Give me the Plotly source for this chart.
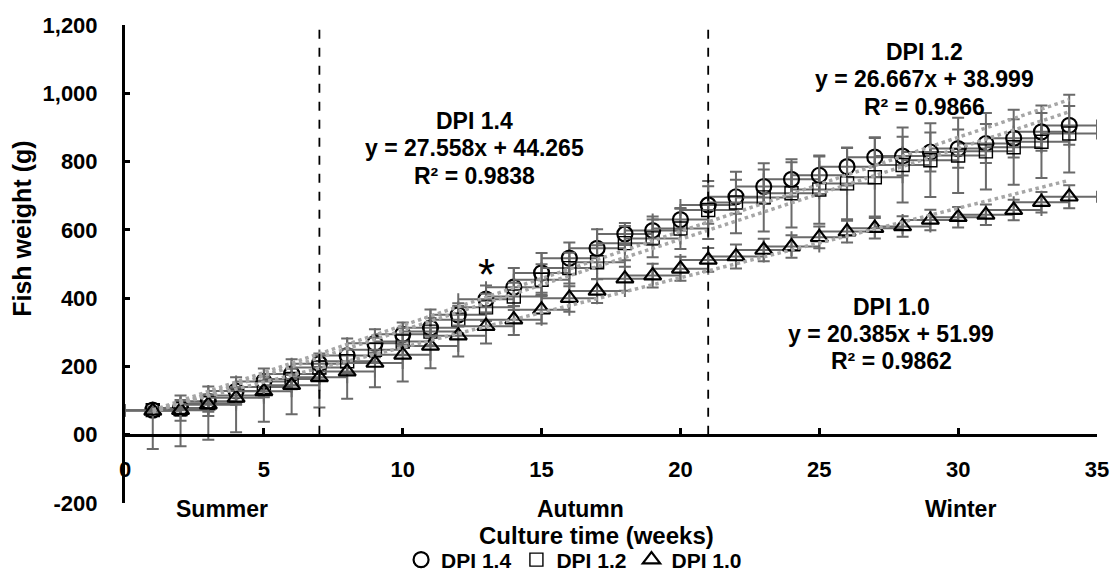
import plotly.graph_objects as go

# ---------------- data ----------------
weeks = list(range(1, 35))

dpi14 = [72, 78, 98, 128, 156, 178, 208, 232, 268, 294, 313, 351, 397, 432, 474, 517, 546,
         588, 598, 630, 673, 697, 727, 748, 760, 785, 813, 816, 828, 838, 853, 868, 887, 906]
dpi12 = [72, 75, 92, 115, 140, 163, 197, 215, 249, 273, 302, 337, 373, 405, 454, 488, 505,
         561, 575, 604, 658, 680, 695, 707, 718, 736, 754, 790, 804, 818, 830, 842, 858, 882]
dpi10 = [70, 72, 88, 108, 127, 145, 168, 185, 210, 234, 260, 290, 318, 337, 366, 400, 421,
         457, 466, 486, 512, 522, 541, 551, 578, 595, 605, 610, 629, 637, 644, 658, 681, 697]

dpi14_err = [5, 37, 43, 40, 38, 43, 30, 50, 41, 35, 54, 34, 40, 56, 58, 46, 56,
             32, 41, 32, 55, 50, 50, 50, 55, 55, 58, 57, 57, 56, 57, 56, 55, 57]
dpi12_err = [10, 20, 25, 25, 30, 30, 35, 35, 35, 40, 40, 40, 40, 40, 45, 45, 50,
             50, 55, 60, 85, 90, 100, 100, 100, 105, 115, 110, 108, 110, 112, 110, 106, 114]
dpi10_err_minus = [112, 106, 103, 101, 89, 85, 88, 80, 71, 78, 65, 61, 51, 45, 40, 40, 35,
                   35, 35, 35, 35, 35, 33, 33, 32, 32, 30, 30, 30, 30, 30, 30, 30, 34]
dpi10_err_plus = [0, 30, 30, 30, 30, 30, 30, 30, 30, 30, 30, 30, 40, 40, 40, 35, 35,
                  35, 35, 35, 35, 35, 33, 33, 32, 32, 30, 30, 30, 30, 30, 30, 30, 34]
week_err = 1

series_names = ["DPI 1.4", "DPI 1.2", "DPI 1.0"]
trend_slopes = [27.558, 26.667, 20.385]
trend_intercepts = [44.265, 38.999, 51.99]
r_squared = ["0.9838", "0.9866", "0.9862"]
trend_eq_text = ["27.558x + 44.265", "26.667x + 38.999", "20.385x + 51.99"]

season_names = ["Summer", "Autumn", "Winter"]
season_bounds = [7, 21]

y_tick_vals = [-200, 0, 200, 400, 600, 800, 1000, 1200]
y_tick_text = ["-200", "00", "200", "400", "600", "800", "1,000", "1,200"]
x_tick_vals = [0, 5, 10, 15, 20, 25, 30, 35]

signif_week = 13
signif_weight = 468

# ---------------- styling ----------------
FONT = "Arial, 'Liberation Sans', sans-serif"
ERR_COLOR = "#6a6a6a"
TREND_COLOR = "#a6a6a6"
PLOT_TOP, PLOT_BOTTOM = 25, 503          # pixel rows of the plotting area
PLOT_H = PLOT_BOTTOM - PLOT_TOP


def paper_y(py):
    return (PLOT_BOTTOM - py) / PLOT_H


fig = go.Figure()

symbols = ["circle-open", "square-open", "triangle-up-open"]
sizes = [15, 13, 15]
lws = [2.2, 1.4, 2.2]
values = [dpi14, dpi12, dpi10]
err_plus = [dpi14_err, dpi12_err, dpi10_err_plus]
err_minus = [dpi14_err, dpi12_err, dpi10_err_minus]

for name, yv, ep, em, sym, sz, lw in zip(series_names, values, err_plus, err_minus, symbols, sizes, lws):
    fig.add_trace(go.Scatter(
        x=weeks, y=yv, mode="markers", name=name,
        marker=dict(symbol=sym, size=sz, color="black", line=dict(color="black", width=lw)),
        error_y=dict(type="data", symmetric=False, array=ep, arrayminus=em,
                     color=ERR_COLOR, thickness=2, width=6),
        error_x=dict(type="constant", value=week_err, color=ERR_COLOR, thickness=2, width=6),
    ))

# linear trend lines from the displayed equations
for a, b in zip(trend_slopes, trend_intercepts):
    xs = [weeks[0], weeks[-1]]
    fig.add_trace(go.Scatter(
        x=xs, y=[a * x + b for x in xs], mode="lines", showlegend=False,
        line=dict(color=TREND_COLOR, width=3.5, dash="dot"), hoverinfo="skip",
    ))

# season boundaries
for xb in season_bounds:
    fig.add_shape(type="line", xref="x", yref="y", x0=xb, x1=xb, y0=0, y1=1200,
                  line=dict(color="black", width=1.8, dash="dash"))

ann_font = dict(family=FONT, size=23, color="black", weight="bold")

# equation blocks: (center week, top weight)
eq_pos = [(12.6, 919), (28.8, 1121), (27.6, 375)]
for name, eq, r2, (cx, ty) in zip(series_names, trend_eq_text, r_squared, eq_pos):
    for i, txt in enumerate([name, "y = " + eq, "R² = " + r2]):
        fig.add_annotation(x=cx, y=ty - i * 80, xref="x", yref="y", text=txt,
                           showarrow=False, font=ann_font, xanchor="center", yanchor="middle")

# significance star
fig.add_annotation(x=signif_week, y=signif_weight, xref="x", yref="y", text="*",
                   showarrow=False, font=dict(family=FONT, size=44, color="black"),
                   xanchor="center", yanchor="middle")

# season labels
season_x = [3.5, 16.4, 30.1]
for s, sx in zip(season_names, season_x):
    fig.add_annotation(x=sx, y=paper_y(509), xref="x", yref="paper", text=s, showarrow=False,
                       font=dict(family=FONT, size=23, color="black", weight="bold"),
                       xanchor="center", yanchor="middle")

# axis titles
fig.add_annotation(x=0.485, y=paper_y(535), xref="paper", yref="paper", text="Culture time (weeks)",
                   showarrow=False, font=dict(family=FONT, size=24, color="black", weight="bold"),
                   xanchor="center", yanchor="middle")
fig.add_annotation(x=-0.106, y=603, xref="paper", yref="y", text="Fish weight (g)", textangle=-90,
                   showarrow=False, font=dict(family=FONT, size=25, color="black", weight="bold"),
                   xanchor="center", yanchor="middle")

fig.update_layout(
    width=1110, height=573,
    margin=dict(l=125, r=13, t=PLOT_TOP, b=573 - PLOT_BOTTOM, autoexpand=False),
    paper_bgcolor="white", plot_bgcolor="white",
    font=dict(family=FONT, color="black"),
    showlegend=True,
    legend=dict(orientation="h", x=0.462, xanchor="center", xref="paper",
                y=1 - 560 / 573, yanchor="middle", yref="container",
                font=dict(family=FONT, size=21, color="black", weight="bold"),
                itemwidth=30, tracegroupgap=0, bgcolor="rgba(0,0,0,0)"),
    xaxis=dict(range=[0, 35], anchor="free", position=200 / 1400,
               showline=True, linecolor="black", linewidth=3,
               ticks="inside", ticklen=6, tickwidth=3, tickcolor="black",
               tickvals=x_tick_vals, ticklabelstandoff=14,
               tickfont=dict(family=FONT, size=22, color="black", weight="bold"),
               showgrid=False, zeroline=False),
    yaxis=dict(range=[-200, 1200], showline=True, linecolor="black", linewidth=3,
               ticks="inside", ticklen=5, tickwidth=3, tickcolor="black",
               tickvals=y_tick_vals, ticktext=y_tick_text, ticklabelstandoff=20,
               tickfont=dict(family=FONT, size=22, color="black", weight="bold"),
               showgrid=False, zeroline=False),
)

fig.write_html("out.html")
